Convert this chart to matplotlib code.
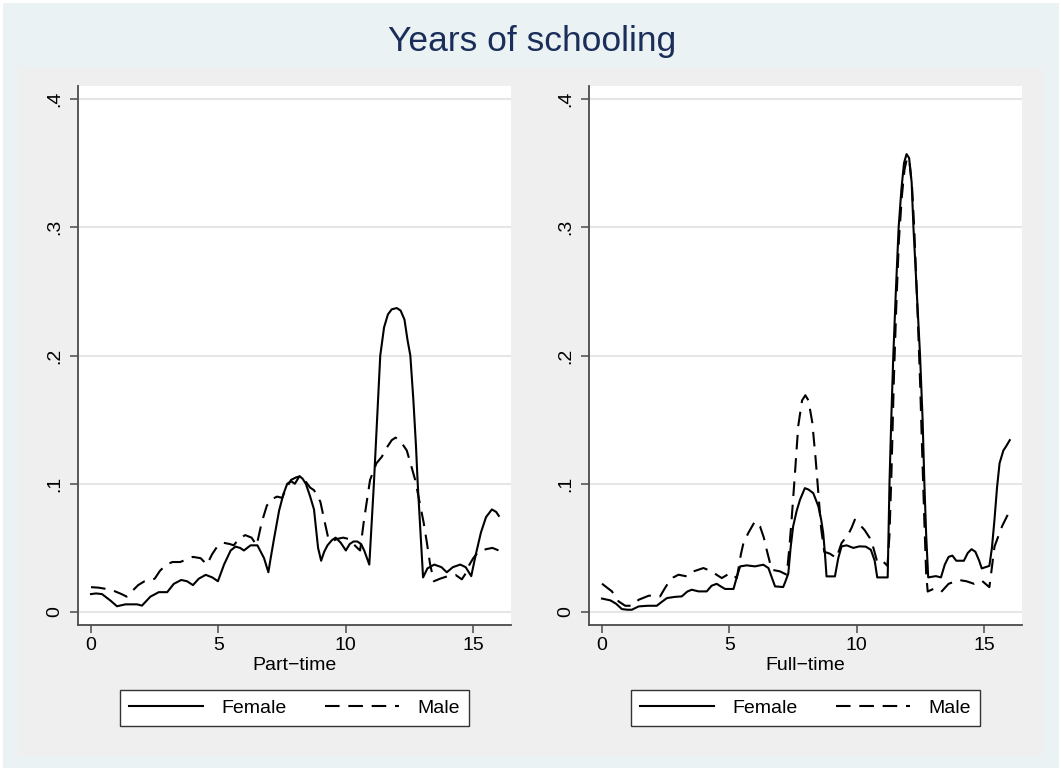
#!/usr/bin/env python3
"""Years of schooling: density of years of schooling by sex, part-time vs full-time."""

import matplotlib

matplotlib.use("Agg")
import matplotlib.pyplot as plt
from matplotlib.lines import Line2D
from matplotlib.patches import Rectangle

# ---- data ----
PANELS = ["Part\u2212time", "Full\u2212time"]
SERIES = ["Female", "Male"]

pt_female_x = [0, 0.2, 0.43, 0.76, 1.02, 1.35, 1.81, 2.0, 2.33, 2.66, 2.99, 3.25, 3.54, 3.77,
               4.0, 4.23, 4.5, 4.76, 4.98, 5.22, 5.48, 5.67, 5.85, 6.0, 6.26, 6.53, 6.79,
               6.96, 7.05, 7.18, 7.38, 7.55, 7.7, 7.85, 8.0, 8.18, 8.3, 8.43, 8.6, 8.75, 8.91,
               9.03, 9.15, 9.28, 9.45, 9.6, 9.8, 10.0, 10.15, 10.3, 10.45, 10.6, 10.72,
               10.92, 11.0, 11.1, 11.2, 11.35, 11.5, 11.65, 11.8, 12.0, 12.15, 12.3, 12.42,
               12.53, 12.65, 12.75, 12.82, 12.92, 13.03, 13.2, 13.47, 13.75, 13.96, 14.2,
               14.49, 14.7, 14.92, 15.1, 15.3, 15.5, 15.73, 15.9, 16.0]
pt_female_y = [0.014, 0.0145, 0.014, 0.009, 0.0045, 0.006, 0.006, 0.005, 0.012, 0.0155,
               0.0155, 0.022, 0.025, 0.024, 0.021, 0.026, 0.029, 0.027, 0.024, 0.037, 0.048,
               0.051, 0.050, 0.048, 0.052, 0.052, 0.042, 0.031, 0.042, 0.057, 0.079, 0.092,
               0.100, 0.102, 0.100, 0.106, 0.104, 0.100, 0.090, 0.080, 0.050, 0.040, 0.047,
               0.052, 0.056, 0.058, 0.054, 0.048, 0.053, 0.055, 0.055, 0.053, 0.048, 0.037,
               0.065, 0.100, 0.140, 0.200, 0.222, 0.232, 0.236, 0.237, 0.235, 0.228, 0.212,
               0.200, 0.165, 0.130, 0.100, 0.065, 0.027, 0.034, 0.037, 0.035, 0.031, 0.035,
               0.037, 0.035, 0.028, 0.045, 0.062, 0.074, 0.080, 0.078, 0.075]

pt_male_x = [0, 0.3, 0.6, 0.9, 1.2, 1.4, 1.6, 1.85, 2.1, 2.35, 2.5, 2.7, 2.95, 3.2, 3.5,
             3.75, 4.0, 4.3, 4.55, 4.75, 4.95, 5.2, 5.45, 5.6, 5.8, 6.05, 6.3, 6.5, 6.7, 6.9,
             7.1, 7.3, 7.5, 7.65, 7.85, 8.05, 8.25, 8.45, 8.6, 8.75, 9.0, 9.15, 9.3, 9.45,
             9.65, 9.9, 10.1, 10.3, 10.5, 10.56, 10.7, 10.85, 10.95, 11.2, 11.41, 11.6,
             11.8, 11.95, 12.15, 12.39, 12.55, 12.72, 12.9, 13.05, 13.18, 13.3, 13.45, 13.7,
             14.0, 14.3, 14.55, 14.7, 14.85, 15.0, 15.2, 15.5, 15.75, 16.0]
pt_male_y = [0.0194, 0.019, 0.018, 0.0165, 0.014, 0.012, 0.016, 0.021, 0.024, 0.025, 0.026,
             0.032, 0.037, 0.039, 0.039, 0.041, 0.043, 0.042, 0.037, 0.045, 0.051, 0.054,
             0.053, 0.052, 0.057, 0.060, 0.058, 0.052, 0.070, 0.083, 0.088, 0.090, 0.089,
             0.096, 0.103, 0.105, 0.106, 0.101, 0.097, 0.095, 0.086, 0.072, 0.0585, 0.055,
             0.057, 0.058, 0.057, 0.053, 0.049, 0.048, 0.070, 0.090, 0.103, 0.116, 0.121,
             0.128, 0.134, 0.136, 0.133, 0.126, 0.115, 0.103, 0.085, 0.070, 0.054, 0.038,
             0.024, 0.026, 0.028, 0.029, 0.0255, 0.030, 0.037, 0.042, 0.047, 0.049, 0.050,
             0.048]

ft_female_x = [0, 0.33, 0.55, 0.78, 1.0, 1.17, 1.44, 1.8, 2.15, 2.35, 2.55, 2.85, 3.13, 3.35,
               3.52, 3.79, 4.11, 4.3, 4.5, 4.7, 4.83, 5.16, 5.3, 5.42, 5.68, 6.0, 6.33, 6.53,
               6.68, 6.79, 7.11, 7.2, 7.31, 7.4, 7.5, 7.64, 7.77, 7.96, 8.1, 8.29, 8.49, 8.6,
               8.68, 8.75, 8.81, 9.14, 9.27, 9.4, 9.6, 9.86, 10.1, 10.35, 10.55, 10.7, 10.8,
               11.21, 11.28, 11.35, 11.43, 11.53, 11.64, 11.75, 11.85, 11.95, 12.05, 12.15,
               12.22, 12.35, 12.48, 12.58, 12.65, 12.72, 12.8, 13.1, 13.3, 13.45, 13.6,
               13.75, 13.9, 14.05, 14.2, 14.35, 14.5, 14.65, 14.8, 14.9, 15.2, 15.3, 15.4,
               15.5, 15.6, 15.75, 15.85, 16.0]
ft_female_y = [0.0105, 0.0091, 0.0065, 0.0023, 0.0018, 0.0018, 0.0044, 0.0049, 0.0049,
               0.008, 0.0109, 0.0118, 0.0122, 0.016, 0.0174, 0.0161, 0.0161, 0.0205, 0.022,
               0.0195, 0.018, 0.018, 0.028, 0.0356, 0.0364, 0.0356, 0.0369, 0.0343, 0.026,
               0.020, 0.0195, 0.024, 0.030, 0.050, 0.0668, 0.079, 0.0876, 0.0966, 0.0955,
               0.0927, 0.0824, 0.072, 0.0616, 0.045, 0.0278, 0.0278, 0.042, 0.0512, 0.052,
               0.050, 0.0512, 0.051, 0.0485, 0.040, 0.027, 0.027, 0.100, 0.150, 0.200,
               0.250, 0.300, 0.330, 0.350, 0.357, 0.354, 0.335, 0.300, 0.250, 0.200, 0.150,
               0.100, 0.060, 0.027, 0.028, 0.027, 0.037, 0.043, 0.044, 0.040, 0.040, 0.040,
               0.046, 0.049, 0.047, 0.040, 0.034, 0.036, 0.050, 0.072, 0.097, 0.116, 0.126,
               0.129, 0.134]

ft_male_x = [0, 0.2, 0.39, 0.52, 0.65, 0.91, 1.17, 1.44, 1.83, 2.05, 2.28, 2.45, 2.61, 2.8,
             3.0, 3.33, 3.59, 3.98, 4.31, 4.5, 4.7, 5.03, 5.29, 5.45, 5.55, 5.74, 6.0, 6.2,
             6.35, 6.46, 6.66, 6.98, 7.25, 7.35, 7.44, 7.56, 7.7, 7.85, 7.98, 8.1, 8.25,
             8.38, 8.5, 8.6, 8.72, 8.94, 9.2, 9.3, 9.4, 9.66, 9.8, 9.92, 10.12, 10.3, 10.5,
             10.65, 10.8, 11.0, 11.2, 11.28, 11.36, 11.45, 11.55, 11.65, 11.77, 11.87, 11.97,
             12.07, 12.17, 12.25, 12.37, 12.48, 12.57, 12.65, 12.72, 12.78, 13.0, 13.3,
             13.6, 14.0, 14.3, 14.6, 14.9, 15.2, 15.3, 15.4, 15.7, 16.0]
ft_male_y = [0.0221, 0.019, 0.0161, 0.012, 0.0083, 0.0049, 0.0049, 0.0096, 0.0127, 0.013,
             0.0122, 0.018, 0.0231, 0.027, 0.0291, 0.0278, 0.0317, 0.0343, 0.0317, 0.029,
             0.0265, 0.0304, 0.0265, 0.045, 0.0538, 0.0616, 0.0707, 0.0668, 0.058, 0.0486,
             0.033, 0.0317, 0.0291, 0.050, 0.072, 0.105, 0.145, 0.165, 0.169, 0.165, 0.148,
             0.120, 0.090, 0.065, 0.047, 0.0455, 0.0421, 0.048, 0.0538, 0.0603, 0.066,
             0.072, 0.068, 0.064, 0.058, 0.050, 0.039, 0.040, 0.036, 0.060, 0.110, 0.180,
             0.240, 0.290, 0.325, 0.345, 0.354, 0.350, 0.330, 0.300, 0.240, 0.180, 0.120,
             0.070, 0.030, 0.016, 0.018, 0.0155, 0.022, 0.025, 0.024, 0.022, 0.0245,
             0.0194, 0.035, 0.051, 0.067, 0.079]

y_ticks = [0, 0.1, 0.2, 0.3, 0.4]
y_tick_labels = ["0", ".1", ".2", ".3", ".4"]
x_ticks = [0, 5, 10, 15]

# ---- styling ----
W, H = 1061, 771
OUTER_BG = "#EAF2F3"
INNER_BG = "#EFEFEF"
AXIS_COL = "#4a4a4a"
GRID_COL = "#E6E6E6"
TITLE_COL = "#1B2E5A"
FONT = ["Liberation Sans", "DejaVu Sans"]
DASH = (0, (7.0, 4.2))


def _px_rect(x0, y0, x1, y1):
    """Pixel box (top-left origin) -> figure fraction [left, bottom, width, height]."""
    return [x0 / W, 1 - y1 / H, (x1 - x0) / W, (y1 - y0) / H]


def _draw_panel(ax, label, female, male):
    ax.plot(*female, color="black", lw=1.5, solid_joinstyle="round", label=SERIES[0])
    ax.plot(*male, color="black", lw=1.5, linestyle=DASH, label=SERIES[1])

    ax.set_xlim(-0.51, 16.48)
    ax.set_ylim(-0.0101, 0.4101)
    ax.set_xticks(x_ticks)
    ax.set_yticks(y_ticks)
    ax.set_yticklabels(y_tick_labels, rotation=90, va="center")
    ax.tick_params(direction="out", length=5.8, width=1.1, color=AXIS_COL,
                   labelsize=14, labelcolor="black")
    ax.tick_params(axis="y", pad=5)
    ax.tick_params(axis="x", pad=2.5)

    ax.set_facecolor("white")
    ax.yaxis.grid(True, color=GRID_COL, lw=1.5)
    ax.set_axisbelow(True)
    for side in ("top", "right"):
        ax.spines[side].set_visible(False)
    for side in ("left", "bottom"):
        ax.spines[side].set_color(AXIS_COL)
        ax.spines[side].set_linewidth(1.3)

    ax.set_xlabel(label, fontsize=14, labelpad=2.5)


def main():
    plt.rcParams["font.family"] = FONT
    fig = plt.figure(figsize=(W / 100, H / 100), dpi=100, facecolor="white")

    fig.patches.append(Rectangle((3 / W, 1 - 768 / H), 1056 / W, 765 / H,
                                 transform=fig.transFigure, facecolor=OUTER_BG,
                                 edgecolor="none", zorder=-3))
    fig.patches.append(Rectangle((18 / W, 1 - 756 / H), 1026 / W, 689 / H,
                                 transform=fig.transFigure, facecolor=INNER_BG,
                                 edgecolor="none", zorder=-2))

    fig.text(532 / W, 1 - 41 / H, "Years of schooling", ha="center", va="center",
             fontsize=25.5, color=TITLE_COL)

    ax_left = fig.add_axes(_px_rect(78, 86, 511, 625))
    ax_right = fig.add_axes(_px_rect(589, 86, 1022, 625))

    _draw_panel(ax_left, PANELS[0], (pt_female_x, pt_female_y), (pt_male_x, pt_male_y))
    _draw_panel(ax_right, PANELS[1], (ft_female_x, ft_female_y), (ft_male_x, ft_male_y))

    for ax, cx in ((ax_left, 294.5), (ax_right, 805.5)):
        handles = [Line2D([], [], color="black", lw=1.5),
                   Line2D([], [], color="black", lw=1.5, linestyle=DASH)]
        leg = ax.legend(handles, SERIES, loc="center", ncol=2,
                        bbox_to_anchor=(cx / W, 1 - 708 / H),
                        bbox_transform=fig.transFigure, fontsize=14,
                        handlelength=3.8, handletextpad=0.95, columnspacing=2.0,
                        borderpad=0.45, fancybox=False, framealpha=1,
                        edgecolor="#333333")
        leg.get_frame().set_linewidth(1.0)

    fig.savefig("out.png", dpi=100, facecolor=fig.get_facecolor())


if __name__ == "__main__":
    main()
